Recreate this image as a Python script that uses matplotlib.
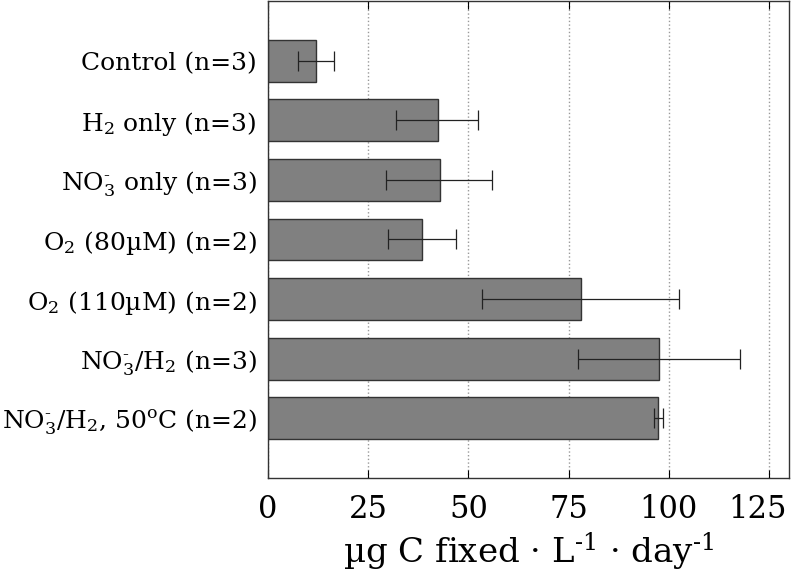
import numpy as np
import matplotlib.pyplot as plt
from matplotlib.transforms import ScaledTranslation

# Carbon fixation rates by treatment
labels = [
    "Control (n=3)",
    "H$_2$ only (n=3)",
    "NO$_3^{\\text{-}}$ only (n=3)",
    "O$_2$ (80µM) (n=2)",
    "O$_2$ (110µM) (n=2)",
    "NO$_3^{\\text{-}}$/H$_2$ (n=3)",
    "NO$_3^{\\text{-}}$/H$_2$, 50$^{\\mathrm{o}}$C (n=2)",
]
rates = [12.0, 42.3, 42.8, 38.5, 78.1, 97.5, 97.4]
err_low = [7.5, 32.0, 29.5, 30.0, 53.5, 77.3, 96.3]
err_high = [16.5, 52.5, 56.0, 47.0, 102.5, 117.7, 98.5]
xticks = [0, 25, 50, 75, 100, 125]

plt.rcParams["font.family"] = "DejaVu Serif"
plt.rcParams["mathtext.fontset"] = "dejavuserif"

fig = plt.figure(figsize=(7.93, 5.75), dpi=100)
ax = fig.add_axes([0.338, 0.169, 0.657, 0.829])

y = np.arange(len(labels))
rates_a = np.array(rates)
xerr = [rates_a - np.array(err_low), np.array(err_high) - rates_a]

ax.barh(y, rates, height=0.7, color="#808080", edgecolor="#333333", linewidth=1.0, zorder=2)
ax.errorbar(rates, y, xerr=xerr, fmt="none", ecolor="#222222", elinewidth=0.9,
            capsize=7, capthick=0.9, zorder=3)

ax.set_yticks(y)
ax.set_yticklabels(labels, fontsize=18)
ax.set_ylim(len(labels), -1)
ax.set_xlim(0, 130)
ax.set_xticks(xticks)
ax.tick_params(axis="x", labelsize=22, direction="in", top=True, length=6, pad=12)
ax.tick_params(axis="y", length=0, pad=8)
ax.grid(axis="x", linestyle=":", color="#999999", linewidth=1.0, zorder=0)
ax.set_axisbelow(True)
ax.set_xlabel("µg C fixed · L$^{\\text{-}1}$ · day$^{\\text{-}1}$", fontsize=24.5, labelpad=4)

# nudge the last tick label so it stays inside the figure
last = ax.get_xticklabels()[-1]
last.set_transform(last.get_transform() + ScaledTranslation(-8 / 72, 0, fig.dpi_scale_trans))

for s in ax.spines.values():
    s.set_color("#333333")
    s.set_linewidth(1.0)

plt.savefig("out.png", dpi=100)
